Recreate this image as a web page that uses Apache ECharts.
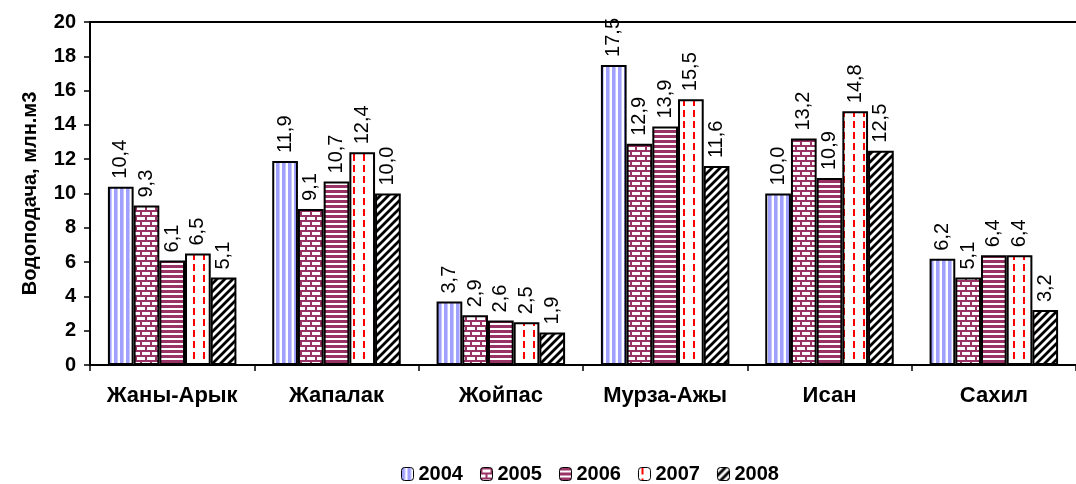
<!DOCTYPE html>
<html><head><meta charset="utf-8">
<script src="https://cdn.jsdelivr.net/npm/echarts@6/dist/echarts.min.js"></script>
<style>html,body{margin:0;padding:0;background:#fff}#c{width:1076px;height:484px}</style>
</head><body><div id="c"></div>
<script>
const categories = ['Жаны-Арык','Жапалак','Жойпас','Мурза-Ажы','Исан','Сахил'];
const years = ['2004','2005','2006','2007','2008'];
const v2004 = [10.4, 11.9, 3.7, 17.5, 10.0, 6.2];
const v2005 = [9.3, 9.1, 2.9, 12.9, 13.2, 5.1];
const v2006 = [6.1, 10.7, 2.6, 13.9, 10.9, 6.4];
const v2007 = [6.5, 12.4, 2.5, 15.5, 14.8, 6.4];
const v2008 = [5.1, 10.0, 1.9, 11.6, 12.5, 3.2];
const yTicks = [0,2,4,6,8,10,12,14,16,18,20];

function mk(w,h,draw){const c=document.createElement('canvas');c.width=w;c.height=h;const g=c.getContext('2d');g.fillStyle='#fff';g.fillRect(0,0,w,h);draw(g);return {image:c,repeat:'repeat'};}
const p2004 = mk(6,6,g=>{g.fillStyle='#a0a0ff';g.fillRect(0,0,3,6);g.fillStyle='#c8c8ff';g.fillRect(3,0,1,6);});
const p2005 = mk(10,10,g=>{g.fillStyle='#993366';g.fillRect(0,0,10,2);g.fillRect(0,5,10,2);g.fillRect(0,0,2,5);g.fillRect(5,5,2,5);});
const p2006 = mk(5,5,g=>{g.fillStyle='#993366';g.fillRect(0,0,5,3);});
const p2007 = mk(10,11,g=>{g.fillStyle='#ff0000';g.fillRect(3,0,2,7);});
const p2008 = mk(8,8,g=>{g.strokeStyle='#000';g.lineWidth=2.8;g.beginPath();for(let k=-2;k<=2;k++){g.moveTo(k*8-1,9);g.lineTo(k*8+9,-1);}g.stroke();});
const pats=[p2004,p2005,p2006,p2007,p2008];
const vals=[v2004,v2005,v2006,v2007,v2008];

const chart = echarts.init(document.getElementById('c'));
chart.setOption({
  animation:false,
  textStyle:{fontFamily:'Liberation Sans, Arial, sans-serif'},
  grid:{left:90, top:22, width:994, bottom:119},
  legend:{top:459, left:396, itemWidth:12, itemHeight:13, itemGap:17,
    textStyle:{fontSize:20, fontWeight:'bold', color:'#000'},
    itemStyle:{borderColor:'#000', borderWidth:1},
    data:years},
  xAxis:[{type:'category', data:categories, boundaryGap:true,
    axisLine:{lineStyle:{color:'#000', width:2}},
    axisTick:{show:true, interval:0, alignWithLabel:false, length:6, lineStyle:{color:'#000', width:1.5}},
    axisLabel:{interval:0, hideOverlap:false, fontSize:22, fontWeight:'bold', color:'#000', margin:20}},
    {type:'category', position:'top', data:categories, axisLine:{lineStyle:{color:'#000', width:2}}, axisTick:{show:false}, axisLabel:{show:false}}],
  yAxis:{type:'value', min:0, max:20, interval:2,
    name:'Водоподача, млн.м3', nameLocation:'middle', nameGap:50,
    nameTextStyle:{fontSize:20, fontWeight:'bold', color:'#000'},
    axisLine:{show:true, lineStyle:{color:'#000', width:2}},
    axisTick:{show:true, length:6, lineStyle:{color:'#000', width:1.5}},
    splitLine:{show:false},
    axisLabel:{fontSize:20, fontWeight:'bold', color:'#000', margin:14,
      formatter:v=>yTicks.includes(v)?String(v):''}},
  series: years.map((y,i)=>({
    name:y, type:'bar', data:vals[i], barGap:'0%', barCategoryGap:'21.8%',
    itemStyle:{color:pats[i], borderColor:'#000', borderWidth:2},
    label:{show:true, position:'top', rotate:90, align:'left', verticalAlign:'middle', distance:8,
      fontSize:20, color:'#000', formatter:p=>p.value.toFixed(1).replace('.',',')}
  }))
});
</script></body></html>
